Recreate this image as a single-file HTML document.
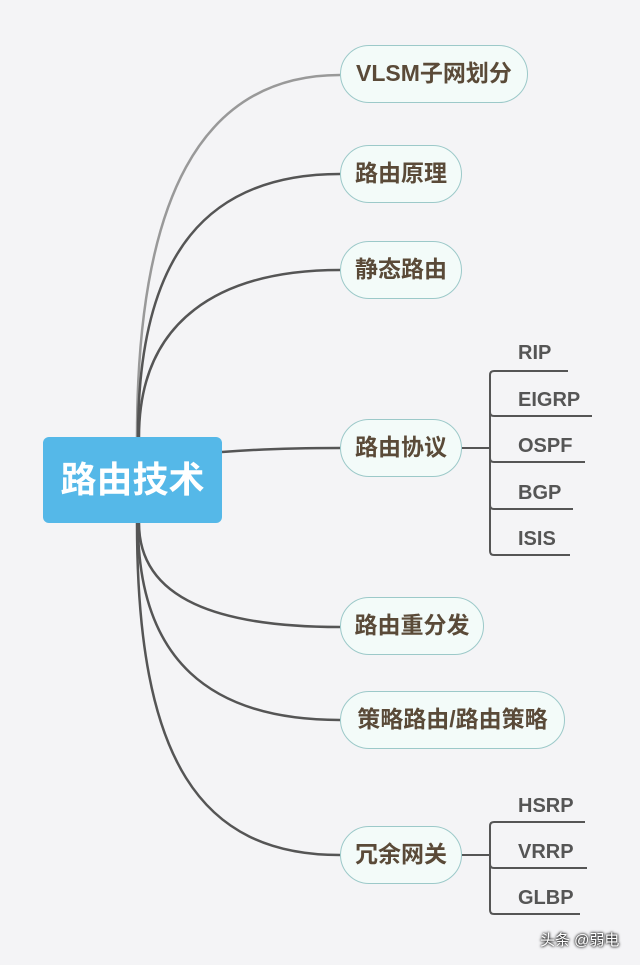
<!DOCTYPE html>
<html><head><meta charset="utf-8"><style>
body{margin:0;width:640px;height:965px;background:#f4f4f6;overflow:hidden;font-family:"Liberation Sans","Noto Sans CJK SC",sans-serif}
svg{position:absolute;left:0;top:0}
.c{position:absolute;left:43px;top:437px;width:179px;height:86px;background:#55b8e8;border-radius:6px;color:#fff;font-weight:bold;font-size:36px;line-height:86px;text-align:center;font-family:"Liberation Sans","Noto Sans CJK SC",sans-serif}
.n{position:absolute;left:340px;border:1.5px solid #9cc9c9;background:#f3fbf9;border-radius:29px;color:#5a4a38;font-weight:bold;font-size:23px;line-height:55px;text-align:center;box-sizing:border-box;height:58px}
.s{position:absolute;left:518px;font-weight:bold;font-size:20px;color:#555;}
.w{position:absolute;left:540px;top:929px;color:#fff;font-size:15px;text-shadow:0 0 3px #000,0 0 2px #000}
</style></head><body>
<svg width="640" height="965" fill="none" stroke-width="2.5">
<path d="M137,437 C137,200 200,75 340,75" stroke="#999"/>
<path d="M138,437 C138,250 210,174 340,174" stroke="#555"/>
<path d="M139,437 C139,320 220,270 340,270" stroke="#555"/>
<path d="M222,452 C260,449 300,448 340,448" stroke="#555"/>
<path d="M139,523 C139,600 220,627 340,627" stroke="#555"/>
<path d="M138,523 C138,660 210,720 340,720" stroke="#555"/>
<path d="M137,523 C137,760 200,855 340,855" stroke="#555"/>
<g stroke="#555" stroke-width="2">
<path d="M462,448 H490 M494,371 H568 M490,375 V551 Q490,555 494,555 H570 M490,412 Q490,416 494,416 H592 M490,458 Q490,462 494,462 H585 M490,505 Q490,509 494,509 H573 M490,375 Q490,371 494,371"/>
<path d="M462,855 H490 M490,826 Q490,822 494,822 H585 M490,826 V910 Q490,914 494,914 H580 M490,864 Q490,868 494,868 H587"/>
</g>
</svg>
<div class="c">路由技术</div>
<div class="n" style="top:45px;width:188px">VLSM子网划分</div>
<div class="n" style="top:145px;width:122px">路由原理</div>
<div class="n" style="top:241px;width:122px">静态路由</div>
<div class="n" style="top:419px;width:122px">路由协议</div>
<div class="n" style="top:597px;width:144px">路由重分发</div>
<div class="n" style="top:691px;width:225px">策略路由/路由策略</div>
<div class="n" style="top:826px;width:122px">冗余网关</div>
<div class="s" style="top:342px">RIP</div>
<div class="s" style="top:389px">EIGRP</div>
<div class="s" style="top:435px">OSPF</div>
<div class="s" style="top:482px">BGP</div>
<div class="s" style="top:528px">ISIS</div>
<div class="s" style="top:795px">HSRP</div>
<div class="s" style="top:841px">VRRP</div>
<div class="s" style="top:887px">GLBP</div>
<div class="w">头条 @弱电</div>
</body></html>
